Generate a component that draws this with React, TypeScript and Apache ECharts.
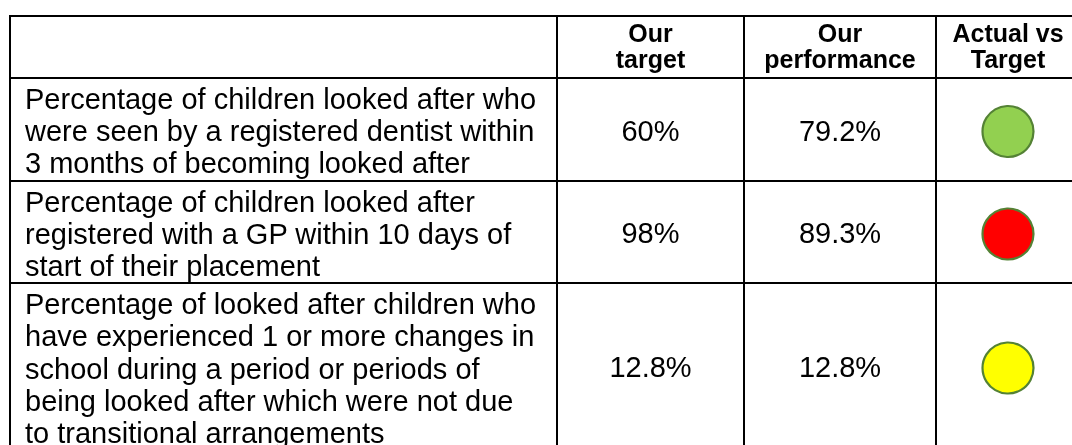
import React, { useEffect, useRef } from "react";
import * as echarts from "echarts";

const headers = ["", "Our\ntarget", "Our\nperformance", "Actual vs\nTarget"];
const descriptions = [
  "Percentage of children looked after who\nwere seen by a registered dentist within\n3 months of becoming looked after",
  "Percentage of children looked after\nregistered with a GP within 10 days of\nstart of their placement",
  "Percentage of looked after children who\nhave experienced 1 or more changes in\nschool during a period or periods of\nbeing looked after which were not due\nto transitional arrangements",
];
const targets = ["60%", "98%", "12.8%"];
const performance = ["79.2%", "89.3%", "12.8%"];
const statusColors = ["#92D050", "#FF0000", "#FFFF00"];

const COL_X = [10, 557, 744, 936, 1080];
const ROW_Y = [16, 78, 181, 283, 449];
const FONT = "'Liberation Sans', Arial, sans-serif";
const LH = 32.2;

export default function App() {
  const ref = useRef<HTMLDivElement>(null);
  useEffect(() => {
    if (!ref.current) return;
    const chart = echarts.init(ref.current, null, { renderer: "svg" });
    const els: any[] = [];
    els.push({ type: "rect", shape: { x: 0, y: 0, width: 1072, height: 445 }, style: { fill: "#fff" }, z: 0 });
    headers.forEach((h, i) => {
      if (!h) return;
      els.push({
        type: "text",
        x: (COL_X[i] + COL_X[i + 1]) / 2,
        y: (ROW_Y[0] + ROW_Y[1]) / 2 - 1,
        z: 5,
        style: {
          text: h,
          fontFamily: FONT,
          fontSize: 25,
          fontWeight: "bold",
          lineHeight: 26,
          fill: "#000",
          textAlign: "center",
          textVerticalAlign: "middle",
        },
      });
    });
    descriptions.forEach((d, r) => {
      const lines = d.split("\n").length;
      const rowTop = ROW_Y[r + 1];
      const rowBottom = ROW_Y[r + 2];
      const cy = (rowTop + rowBottom) / 2;
      const textCy = Math.max(cy, rowTop + 5 + (lines * LH) / 2);
      els.push({
        type: "text",
        x: 25,
        y: r === descriptions.length - 1 ? rowTop + 5 + (lines * LH) / 2 : textCy,
        z: 5,
        style: {
          text: d,
          fontFamily: FONT,
          fontSize: 29,
          lineHeight: LH,
          fill: "#000",
          textAlign: "left",
          textVerticalAlign: "middle",
        },
      });
      [targets[r], performance[r]].forEach((v, c) => {
        els.push({
          type: "text",
          x: (COL_X[c + 1] + COL_X[c + 2]) / 2,
          y: cy + 1,
          z: 5,
          style: {
            text: v,
            fontFamily: FONT,
            fontSize: 29,
            fill: "#000",
            textAlign: "center",
            textVerticalAlign: "middle",
          },
        });
      });
      els.push({
        type: "circle",
        shape: { cx: (COL_X[3] + COL_X[4]) / 2, cy: cy + 2, r: 25.5 },
        z: 5,
        style: { fill: statusColors[r], stroke: "#548235", lineWidth: 2.2 },
      });
    });
    ROW_Y.slice(0, 4).forEach((y) => {
      els.push({ type: "line", z: 10, shape: { x1: COL_X[0] - 1, y1: y, x2: 1072, y2: y }, style: { stroke: "#000", lineWidth: 2 } });
    });
    COL_X.slice(0, 4).forEach((x) => {
      els.push({ type: "line", z: 10, shape: { x1: x, y1: ROW_Y[0] - 1, x2: x, y2: 445 }, style: { stroke: "#000", lineWidth: 2 } });
    });
    chart.setOption({ animation: false, graphic: { elements: els } });
    return () => chart.dispose();
  }, []);
  return <div ref={ref} style={{ position: "fixed", left: 0, top: 0, width: 1072, height: 445 }} />;
}
